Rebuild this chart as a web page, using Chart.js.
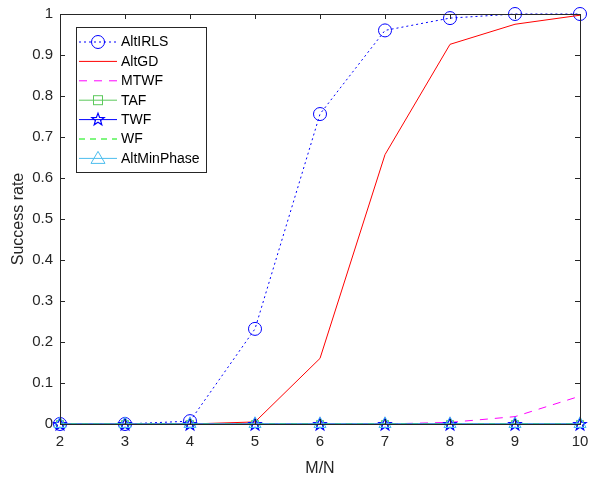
<!DOCTYPE html>
<html><head><meta charset="utf-8">
<script src="https://cdn.jsdelivr.net/npm/chart.js@4.4.1/dist/chart.umd.min.js"></script>
<style>html,body{margin:0;padding:0;background:#fff}#wrap{width:589px;height:478px}</style>
</head><body><div id="wrap"><canvas id="c" width="589" height="478"></canvas></div>
<script>
const ratios = [2, 3, 4, 5, 6, 7, 8, 9, 10];
const altIRLS = [0, 0, 0.007, 0.232, 0.756, 0.96, 0.99, 1, 1];
const altGD = [0, 0, 0, 0.005, 0.16, 0.657, 0.926, 0.975, 0.997];
const mtwf = [0, 0, 0, 0, 0, 0, 0.004, 0.018, 0.068];
const taf = [0, 0, 0, 0, 0, 0, 0, 0, 0];
const twf = [0, 0, 0, 0, 0, 0, 0, 0, 0];
const wf = [0, 0, 0, 0, 0, 0, 0, 0, 0];
const altMinPhase = [0, 0, 0, 0, 0, 0, 0, 0, 0];
const seriesNames = ['AltIRLS', 'AltGD', 'MTWF', 'TAF', 'TWF', 'WF', 'AltMinPhase'];
const yTicks = [0, 0.1, 0.2, 0.3, 0.4, 0.5, 0.6, 0.7, 0.8, 0.9, 1];

const FONT = '"Liberation Sans", Arial, sans-serif';
function starCanvas(color) {
  const s = 16, c = document.createElement('canvas');
  c.width = s; c.height = s;
  const g = c.getContext('2d');
  drawStar(g, s / 2, s / 2 + 0.5, 6.5, color);
  return c;
}
function drawStar(g, cx, cy, R, color) {
  const r = R * 0.42;
  g.beginPath();
  for (let i = 0; i < 10; i++) {
    const a = -Math.PI / 2 + i * Math.PI / 5;
    const rr = i % 2 === 0 ? R : r;
    const x = cx + rr * Math.cos(a), y = cy + rr * Math.sin(a);
    if (i === 0) g.moveTo(x, y); else g.lineTo(x, y);
  }
  g.closePath();
  g.strokeStyle = color; g.lineWidth = 1.2; g.stroke();
}
const BLUE = '#0000ff', RED = '#ff0000', MAG = '#ff00ff', TAFG = '#5cc95c', WFG = '#00ee00', LB = '#4dbeee';
const starImg = starCanvas(BLUE);

const styles = [
  {color: BLUE, dash: [2, 3], marker: 'circle', r: 6.5},
  {color: RED, dash: [], marker: false, r: 0},
  {color: MAG, dash: [8, 7], marker: false, r: 0},
  {color: TAFG, dash: [], marker: 'rect', r: 5},
  {color: BLUE, dash: [], marker: starImg, r: 7},
  {color: WFG, dash: [6, 5], marker: false, r: 0},
  {color: LB, dash: [], marker: 'triangle', r: 7}
];
const data = [altIRLS, altGD, mtwf, taf, twf, wf, altMinPhase];
const datasets = data.map((d, i) => ({
  label: seriesNames[i],
  data: ratios.map((x, j) => ({x: x, y: d[j]})),
  borderColor: styles[i].color,
  backgroundColor: 'rgba(0,0,0,0)',
  borderWidth: 1,
  borderDash: styles[i].dash,
  pointStyle: styles[i].marker || 'circle',
  pointRadius: styles[i].marker ? styles[i].r : 0,
  pointBorderColor: styles[i].color,
  pointBackgroundColor: 'rgba(0,0,0,0)',
  pointBorderWidth: 1,
  pointHoverRadius: 0,
  clip: false,
  order: 7 - i,
  tension: 0
}));

const frame = {
  id: 'frame',
  afterDraw(chart) {
    const {ctx, chartArea: a, scales} = chart;
    ctx.save();
    ctx.strokeStyle = '#262626'; ctx.lineWidth = 1; ctx.setLineDash([]);
    ctx.strokeRect(Math.round(a.left) + 0.5, Math.round(a.top) + 0.5, Math.round(a.right - a.left), Math.round(a.bottom - a.top));
    ctx.beginPath();
    ratios.forEach(v => {
      const x = Math.round(scales.x.getPixelForValue(v)) + 0.5;
      ctx.moveTo(x, a.bottom); ctx.lineTo(x, a.bottom - 5);
      ctx.moveTo(x, a.top); ctx.lineTo(x, a.top + 5);
    });
    yTicks.forEach(v => {
      const y = Math.round(scales.y.getPixelForValue(v)) + 0.5;
      ctx.moveTo(a.left, y); ctx.lineTo(a.left + 5, y);
      ctx.moveTo(a.right, y); ctx.lineTo(a.right - 5, y);
    });
    ctx.stroke();
    // legend
    const lx = 76.5, ly = 27.5, lw = 130, lh = 145;
    ctx.fillStyle = '#fff';
    ctx.fillRect(lx, ly, lw, lh);
    ctx.strokeStyle = '#262626';
    ctx.strokeRect(lx, ly, lw, lh);
    ctx.font = '14px ' + FONT;
    ctx.textBaseline = 'middle';
    seriesNames.forEach((n, i) => {
      const y = 42 + i * 19.4;
      const s = styles[i];
      ctx.strokeStyle = s.color; ctx.lineWidth = 1; ctx.setLineDash(s.dash);
      ctx.beginPath(); ctx.moveTo(79, y); ctx.lineTo(117, y); ctx.stroke();
      ctx.setLineDash([]);
      const cx = 98;
      if (s.marker === 'circle') { ctx.beginPath(); ctx.arc(cx, y, 6.5, 0, Math.PI * 2); ctx.stroke(); }
      else if (s.marker === 'rect') { ctx.strokeRect(cx - 4.5, y - 4.5, 9, 9); }
      else if (s.marker === 'triangle') {
        ctx.beginPath(); ctx.moveTo(cx, y - 7); ctx.lineTo(cx + 7, y + 5); ctx.lineTo(cx - 7, y + 5); ctx.closePath(); ctx.stroke();
      } else if (s.marker) { drawStar(ctx, cx, y, 6.5, s.color); }
      ctx.fillStyle = '#000';
      ctx.fillText(n, 121, y + 0.5);
    });
    ctx.restore();
  }
};

new Chart(document.getElementById('c'), {
  type: 'line',
  data: {datasets},
  options: {
    responsive: false,
    animation: false,
    devicePixelRatio: 1,
    layout: {padding: {top: 14, right: 9, left: 0, bottom: 0}},
    plugins: {legend: {display: false}, tooltip: {enabled: false}},
    scales: {
      x: {
        type: 'linear', min: 2, max: 10,
        afterBuildTicks: s => { s.ticks = ratios.map(v => ({value: v})); },
        afterFit: s => { s.height = 54; s.paddingLeft = 0; s.paddingRight = 0; },
        grid: {display: false, drawTicks: false},
        border: {display: false},
        ticks: {color: '#262626', font: {size: 15, family: FONT}, padding: 9, maxRotation: 0},
        title: {display: true, text: 'M/N', color: '#262626', font: {size: 16, family: FONT}, padding: {top: 2, bottom: 0}}
      },
      y: {
        type: 'linear', min: 0, max: 1,
        afterBuildTicks: s => { s.ticks = yTicks.map(v => ({value: v})); },
        afterFit: s => { s.width = 60; s.paddingTop = 0; s.paddingBottom = 0; },
        grid: {display: false, drawTicks: false},
        border: {display: false},
        ticks: {color: '#262626', font: {size: 15, family: FONT}, padding: 7, callback: v => String(Math.round(v * 10) / 10)},
        title: {display: true, text: 'Success rate', color: '#262626', font: {size: 16, family: FONT}, padding: {top: 9, bottom: 0}}
      }
    }
  },
  plugins: [frame]
});
</script></body></html>
